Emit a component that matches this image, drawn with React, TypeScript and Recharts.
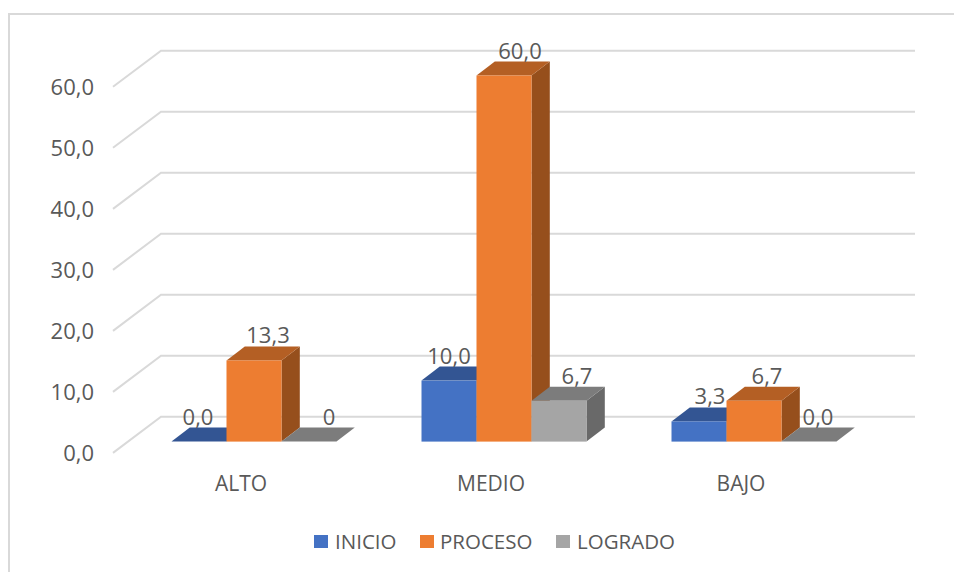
import React from "react";
import { BarChart, Bar, XAxis, YAxis, CartesianGrid, LabelList, Legend } from "recharts";

const categories = ["ALTO", "MEDIO", "BAJO"];
const inicio = [0, 10, 3.3];
const proceso = [13.3, 60, 6.7];
const logrado = [0, 6.7, 0];
const inicioLabels = ["0,0", "10,0", "3,3"];
const procesoLabels = ["13,3", "60,0", "6,7"];
const logradoLabels = ["0", "6,7", "0,0"];
const yTicks = [0, 10, 20, 30, 40, 50, 60];
const yTickLabels = ["0,0", "10,0", "20,0", "30,0", "40,0", "50,0", "60,0"];

const rows = categories.map((name, i) => ({
  name,
  INICIO: inicio[i],
  PROCESO: proceso[i],
  LOGRADO: logrado[i],
}));

const FONT = "'Open Sans', sans-serif";
const TEXT = "#595959";
const GRID = "#D9D9D9";
const DX = 18.3;
const DY = 14;

const palette = {
  INICIO: { front: "#4472C4", top: "#335593", side: "#2A4A86" },
  PROCESO: { front: "#ED7D31", top: "#B45F24", side: "#964F1C" },
  LOGRADO: { front: "#A5A5A5", top: "#7C7C7C", side: "#696969" },
};

const Box3D = (colors: { front: string; top: string; side: string }) => (props: any) => {
  const { x, y, width: w, height: h } = props;
  return (
    <g>
      <path d={`M${x + w} ${y} L${x + w + DX} ${y - DY} L${x + w + DX} ${y + h - DY} L${x + w} ${y + h} Z`} fill={colors.side} />
      <path d={`M${x} ${y} L${x + DX} ${y - DY} L${x + w + DX} ${y - DY} L${x + w} ${y} Z`} fill={colors.top} />
      {h > 0 && <rect x={x} y={y} width={w} height={h} fill={colors.front} />}
    </g>
  );
};

const GridLine = (props: any) => {
  const y = props.y1;
  return (
    <path
      key={props.key ?? y}
      d={`M113 ${y + 11.3} L161 ${y - 24.8} L915 ${y - 24.8}`}
      fill="none"
      stroke={GRID}
      strokeWidth={2}
    />
  );
};

const YTick = (props: any) => {
  const i = yTicks.indexOf(props.payload.value);
  return (
    <text x={94} y={props.y + 19.5} textAnchor="end" fontFamily={FONT} fontSize={22} fill={TEXT}>
      {yTickLabels[i]}
    </text>
  );
};

const XTick = (props: any) => (
  <text x={props.x - 13} y={491} textAnchor="middle" fontFamily={FONT} fontSize={21} fill={TEXT}>
    {props.payload.value}
  </text>
);

const labelFor = (texts: string[], nudges: number[]) => (props: any) => {
  const { x, y, width, index } = props;
  return (
    <text
      x={x + width / 2 + nudges[index]}
      y={y - 25 + 8}
      textAnchor="middle"
      fontFamily={FONT}
      fontSize={22}
      fill={TEXT}
    >
      {texts[index]}
    </text>
  );
};

const LegendBox = (props: any) => {
  const spots: Record<string, [number, number]> = {
    INICIO: [314, 335],
    PROCESO: [420, 440],
    LOGRADO: [556, 577],
  };
  return (
    <div style={{ position: "relative", width: 954, height: 30 }}>
      {props.payload.map((p: any) => (
        <React.Fragment key={p.value}>
          <div
            style={{
              position: "absolute",
              left: spots[p.value][0],
              top: 9,
              width: 13.5,
              height: 12.5,
              background: p.color,
            }}
          />
          <div
            style={{
              position: "absolute",
              left: spots[p.value][1],
              top: 0,
              lineHeight: "30px",
              fontFamily: FONT,
              fontSize: 20.5,
              color: TEXT,
              whiteSpace: "nowrap",
            }}
          >
            {p.value}
          </div>
        </React.Fragment>
      ))}
    </div>
  );
};

export default function App() {
  return (
    <div style={{ position: "absolute", left: 0, top: 0, width: 954, height: 572, background: "#fff", overflow: "hidden" }}>
      <div
        style={{
          position: "absolute",
          left: 8,
          top: 13,
          width: 1000,
          height: 600,
          border: `2px solid ${GRID}`,
          boxSizing: "border-box",
        }}
      />
      <div style={{ position: "absolute", left: 0, top: 0 }}>
        <BarChart
          width={954}
          height={572}
          data={rows}
          margin={{ top: 75.5, right: 75, bottom: 60.4, left: 69 }}
          barGap={0}
          barCategoryGap={42.5}
        >
          <CartesianGrid vertical={false} horizontal={GridLine as any} />
          <XAxis dataKey="name" height={40} axisLine={false} tickLine={false} tick={XTick as any} interval={0} />
          <YAxis
            width={60}
            domain={[0, 60]}
            ticks={yTicks}
            axisLine={false}
            tickLine={false}
            tick={YTick as any}
            interval={0}
          />
          <Legend
            content={LegendBox as any}
            wrapperStyle={{ position: "absolute", left: 0, top: 526, width: 954, height: 30 }}
          />
          <Bar dataKey="INICIO" fill={palette.INICIO.front} isAnimationActive={false} shape={Box3D(palette.INICIO) as any}>
            <LabelList dataKey="INICIO" content={labelFor(inicioLabels, [-1, 0, 11]) as any} />
          </Bar>
          <Bar dataKey="PROCESO" fill={palette.PROCESO.front} isAnimationActive={false} shape={Box3D(palette.PROCESO) as any}>
            <LabelList dataKey="PROCESO" content={labelFor(procesoLabels, [14, 16, 13]) as any} />
          </Bar>
          <Bar dataKey="LOGRADO" fill={palette.LOGRADO.front} isAnimationActive={false} shape={Box3D(palette.LOGRADO) as any}>
            <LabelList dataKey="LOGRADO" content={labelFor(logradoLabels, [20, 18, 9]) as any} />
          </Bar>
        </BarChart>
      </div>
    </div>
  );
}
